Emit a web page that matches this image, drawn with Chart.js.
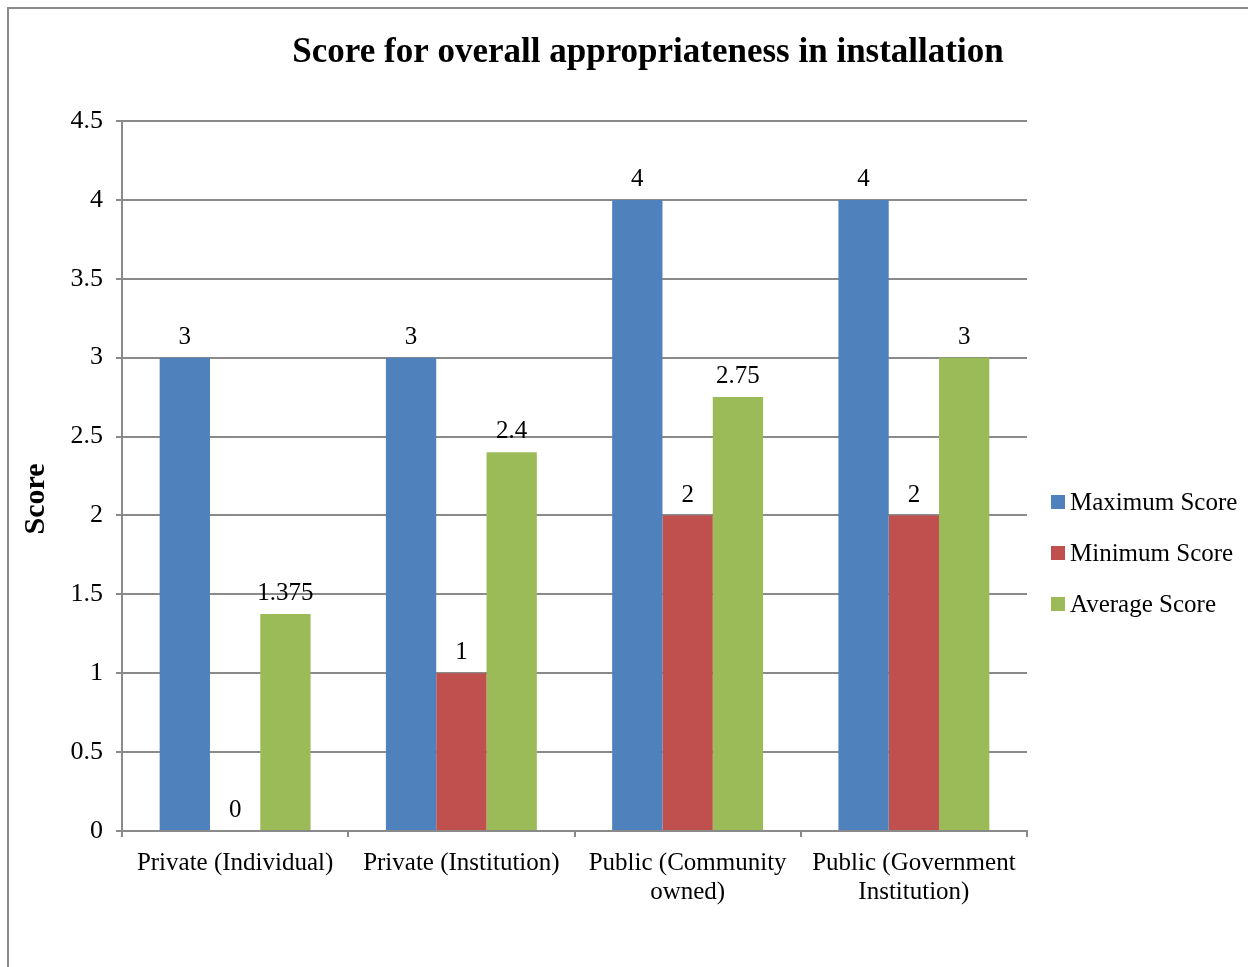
<!DOCTYPE html>
<html>
<head>
<meta charset="utf-8">
<script src="https://cdn.jsdelivr.net/npm/chart.js@4.4.1/dist/chart.umd.min.js"></script>
<style>
    html, body { margin: 0; padding: 0; background: #fff; overflow: hidden; }
    #frame {
        position: absolute; left: 7px; top: 7px; width: 1400px; height: 1100px;
        border-left: 2px solid #8c8c8c; border-top: 2px solid #8c8c8c;
    }
    #chart { position: absolute; left: 8px; top: 8px; }
</style>
</head>
<body>
<div id="frame"></div>
<canvas id="chart" width="1280" height="1000"></canvas>
<script>
/* ─── Data ───────────────────────────────────── */
const chartTitle = 'Score for overall appropriateness in installation';
const yTitle = 'Score';
const categories = [
    'Private (Individual)',
    'Private (Institution)',
    ['Public (Community', 'owned)'],
    ['Public (Government', 'Institution)']
];
const seriesNames = ['Maximum Score', 'Minimum Score', 'Average Score'];
const maxScores = [3, 3, 4, 4];
const minScores = [0, 1, 2, 2];
const avgScores = [1.375, 2.4, 2.75, 3];
const yTicks = [0, 0.5, 1, 1.5, 2, 2.5, 3, 3.5, 4, 4.5];

const colors = {
    blue: '#4f81bd',
    red: '#c0504d',
    green: '#9bbb59',
    grid: '#8a8a8a',
    text: '#000000'
};
const serif = "'Liberation Serif', 'Times New Roman', serif";

/* ─── Plugins ────────────────────────────────── */
const valueLabels = {
    id: 'valueLabels',
    afterDatasetsDraw(chart) {
        const ctx = chart.ctx;
        ctx.save();
        ctx.font = '25px ' + serif;
        ctx.fillStyle = colors.text;
        ctx.textAlign = 'center';
        ctx.textBaseline = 'bottom';
        chart.data.datasets.forEach((ds, i) => {
            chart.getDatasetMeta(i).data.forEach((bar, j) => {
                ctx.fillText(String(ds.data[j]), bar.x, bar.y - 8);
            });
        });
        ctx.restore();
    }
};

// title, y-axis title and legend drawn by hand so they sit where the original has them
const decorations = {
    id: 'decorations',
    afterDraw(chart) {
        const ctx = chart.ctx;
        ctx.save();
        ctx.fillStyle = colors.text;

        ctx.font = 'bold 35px ' + serif;
        ctx.textAlign = 'center';
        ctx.textBaseline = 'middle';
        ctx.fillText(chartTitle, 640, 45);

        ctx.save();
        ctx.translate(28, 491);
        ctx.rotate(-Math.PI / 2);
        ctx.font = 'bold 30px ' + serif;
        ctx.fillText(yTitle, 0, 0);
        ctx.restore();

        ctx.font = '25px ' + serif;
        ctx.textAlign = 'left';
        chart.data.datasets.forEach((ds, i) => {
            const y = 494 + i * 51;
            ctx.fillStyle = ds.backgroundColor;
            ctx.fillRect(1043, y - 7, 14, 14);
            ctx.fillStyle = colors.text;
            ctx.fillText(ds.label, 1062, y + 1);
        });
        ctx.restore();
    }
};

/* ─── Chart ──────────────────────────────────── */
const ctx = document.getElementById('chart');
new Chart(ctx.getContext('2d'), {
    type: 'bar',
    data: {
        labels: categories,
        datasets: [
            { label: seriesNames[0], data: maxScores, backgroundColor: colors.blue },
            { label: seriesNames[1], data: minScores, backgroundColor: colors.red },
            { label: seriesNames[2], data: avgScores, backgroundColor: colors.green }
        ]
    },
    options: {
        responsive: false,
        animation: false,
        layout: { padding: { left: 0, right: 261, top: 113, bottom: 0 } },
        datasets: {
            bar: { categoryPercentage: 0.667, barPercentage: 1.0, borderWidth: 0 }
        },
        plugins: {
            legend: { display: false },
            tooltip: { enabled: false },
            title: { display: false }
        },
        scales: {
            x: {
                grid: {
                    offset: true,
                    drawOnChartArea: false,
                    drawTicks: true,
                    tickLength: 6,
                    color: colors.grid,
                    lineWidth: 2
                },
                border: { display: true, color: colors.grid, width: 2 },
                ticks: {
                    color: colors.text,
                    font: { family: serif, size: 25, lineHeight: 1.17 },
                    padding: 12,
                    maxRotation: 0,
                    autoSkip: false
                },
                afterFit(scale) { scale.height = 177; }
            },
            y: {
                min: 0,
                max: 4.5,
                afterBuildTicks(scale) {
                    scale.ticks = yTicks.map(v => ({ value: v }));
                },
                grid: { color: colors.grid, lineWidth: 2, tickLength: 6 },
                border: { display: true, color: colors.grid, width: 2 },
                ticks: {
                    color: colors.text,
                    font: { family: serif, size: 26 },
                    padding: 13,
                    callback: v => String(v)
                },
                afterFit(scale) { scale.width = 114; }
            }
        }
    },
    plugins: [valueLabels, decorations]
});
</script>
</body>
</html>
